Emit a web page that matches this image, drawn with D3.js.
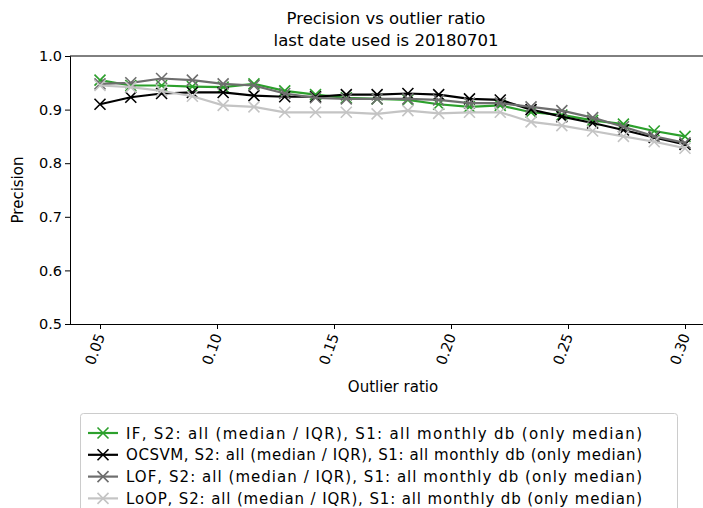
<!DOCTYPE html>
<html><head><meta charset="utf-8">
<script src="https://cdn.jsdelivr.net/npm/d3@7"></script>
<style>body{margin:0;background:#fff;overflow:hidden}text{font-family:"DejaVu Sans",sans-serif}</style>
</head><body><div id="chart"></div>
<script>
const xs = d3.range(20).map(i => 0.05 + i * 0.25 / 19);
const ifVals = [0.955,0.945,0.945,0.943,0.942,0.948,0.935,0.928,0.922,0.920,0.918,0.910,0.905,0.908,0.895,0.890,0.880,0.873,0.860,0.850];
const ocsvmVals = [0.910,0.923,0.930,0.932,0.932,0.926,0.924,0.924,0.928,0.928,0.930,0.928,0.920,0.918,0.900,0.887,0.875,0.862,0.848,0.835];
const lofVals = [0.948,0.950,0.958,0.955,0.948,0.945,0.930,0.922,0.920,0.920,0.920,0.918,0.912,0.912,0.905,0.898,0.885,0.868,0.850,0.838];
const loopVals = [0.945,0.942,0.935,0.925,0.908,0.905,0.895,0.895,0.895,0.892,0.898,0.893,0.895,0.895,0.877,0.870,0.860,0.850,0.840,0.828];
const xTicks = [0.05,0.10,0.15,0.20,0.25,0.30];
const yTicks = [0.5,0.6,0.7,0.8,0.9,1.0];
const series = [
  {name:"IF, S2: all (median / IQR), S1: all monthly db (only median)", vals:ifVals, color:"#2ca02c"},
  {name:"OCSVM, S2: all (median / IQR), S1: all monthly db (only median)", vals:ocsvmVals, color:"#000000"},
  {name:"LOF, S2: all (median / IQR), S1: all monthly db (only median)", vals:lofVals, color:"#6e6e6e"},
  {name:"LoOP, S2: all (median / IQR), S1: all monthly db (only median)", vals:loopVals, color:"#c4c4c4"}
];

const W = 703, H = 508;
const svg = d3.select("#chart").append("svg").attr("width", W).attr("height", H);
const pLeft = 70, pRight = 703, pTop = 56, pBottom = 324;
const x = d3.scaleLinear().domain([0.05, 0.30]).range([100, 685]);
const y = d3.scaleLinear().domain([0.5, 1.0]).range([pBottom, pTop]);

svg.append("text").attr("x", 386).attr("y", 24).attr("text-anchor", "middle").attr("font-size", 16.5).text("Precision vs outlier ratio");
svg.append("text").attr("x", 386).attr("y", 46).attr("text-anchor", "middle").attr("font-size", 16.5).text("last date used is 20180701");

//axes
const gx = svg.append("g").attr("transform", `translate(0,${pBottom})`)
  .call(d3.axisBottom(x).tickValues(xTicks).tickFormat(d3.format(".2f")).tickSizeOuter(0).tickSize(5));
gx.selectAll("text").attr("font-size", 14.5).attr("text-anchor", "end")
  .attr("transform", "translate(0,10) rotate(-70)").attr("dy", "0.35em").attr("y", 0).attr("x", 0);
const gy = svg.append("g").attr("transform", `translate(${pLeft},0)`)
  .call(d3.axisLeft(y).tickValues(yTicks).tickFormat(d3.format(".1f")).tickSizeOuter(0).tickSize(5));
gy.selectAll("text").attr("font-size", 14.5);
gx.select(".domain").attr("d", `M${pLeft},0.5H${pRight}`);
svg.selectAll(".domain").attr("stroke", "#000");
svg.append("line").attr("x1", pLeft).attr("x2", pRight).attr("y1", pTop).attr("y2", pTop).attr("stroke", "#000");

svg.append("text").attr("x", 393).attr("y", 392).attr("text-anchor", "middle").attr("font-size", 15).text("Outlier ratio");
svg.append("text").attr("transform", `translate(23,${(pTop + pBottom) / 2}) rotate(-90)`).attr("text-anchor", "middle").attr("font-size", 15).text("Precision");

const line = d3.line().x((d, i) => x(xs[i])).y(d => y(d));
function cross(g, cx, cy, c) {
  const s = 5.5;
  g.append("path").attr("d", `M${cx-s},${cy-s}L${cx+s},${cy+s}M${cx-s},${cy+s}L${cx+s},${cy-s}`)
    .attr("stroke", c).attr("stroke-width", 1.6).attr("fill", "none");
}
series.forEach(s => {
  const g = svg.append("g");
  g.append("path").datum(s.vals).attr("d", line).attr("fill", "none").attr("stroke", s.color).attr("stroke-width", 2.2);
  s.vals.forEach((v, i) => cross(g, x(xs[i]), y(v), s.color));
});

//legend
const lg = svg.append("g");
lg.append("rect").attr("x", 80.5).attr("y", 413.5).attr("width", 597).attr("height", 100).attr("rx", 3)
  .attr("fill", "#fff").attr("stroke", "#ccc");
series.forEach((s, i) => {
  const ly = 433 + i * 21.8;
  lg.append("line").attr("x1", 88).attr("x2", 118).attr("y1", ly).attr("y2", ly).attr("stroke", s.color).attr("stroke-width", 2.2);
  cross(lg, 103, ly, s.color);
  lg.append("text").attr("x", 126).attr("y", ly + 5.5).attr("font-size", 15).attr("textLength", 516).text(s.name);
});
</script></body></html>
